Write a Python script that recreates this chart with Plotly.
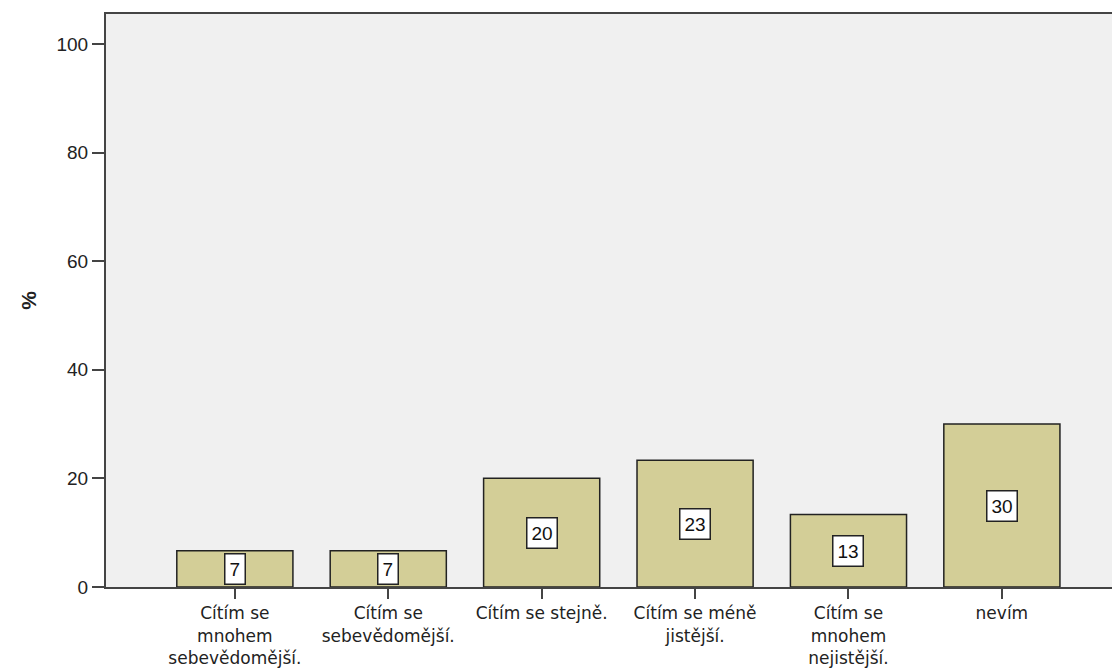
import plotly.graph_objects as go

categories = ["Cítím se<br>mnohem<br>sebevědomější.", "Cítím se<br>sebevědomější.", "Cítím se stejně.",
              "Cítím se méně<br>jistější.", "Cítím se<br>mnohem<br>nejistější.", "nevím"]
values = [6.67, 6.67, 20.0, 23.33, 13.33, 30.0]
labels = ["7", "7", "20", "23", "13", "30"]
y_ticks = [0, 20, 40, 60, 80, 100]

x_idx = list(range(len(categories)))

fig = go.Figure()
fig.add_trace(go.Bar(
    x=x_idx, y=values, width=0.757,
    marker=dict(color="#D3CE97", line=dict(color="#222222", width=1.5)),
    hoverinfo="skip",
))

for i, (v, t) in enumerate(zip(values, labels)):
    fig.add_annotation(x=i, y=v / 2, xref="x", yref="y", text=t, showarrow=False,
                       font=dict(family="Liberation Sans, Arial", size=19, color="#111111"),
                       bgcolor="white", bordercolor="#222222", borderwidth=1.5, borderpad=4)

fig.update_layout(
    width=1112, height=660,
    margin=dict(l=98, r=0, t=6, b=81),
    paper_bgcolor="white", plot_bgcolor="#F0F0F0",
    showlegend=False,
    font=dict(family="DejaVu Sans", size=16, color="#222222"),
    xaxis=dict(
        range=[-0.84, 5.77], tickmode="array", tickvals=x_idx, ticktext=categories,
        ticks="outside", ticklen=10, tickwidth=2, tickcolor="#444444",
        showline=True, linecolor="#444444", linewidth=2, mirror=True,
        showgrid=False, zeroline=False, fixedrange=True,
        tickfont=dict(family="DejaVu Sans", size=17, color="#222222"),
    ),
    yaxis=dict(
        range=[0, 105.5], tickmode="array", tickvals=y_ticks,
        ticks="outside", ticklen=12, tickwidth=2, tickcolor="#444444",
        showline=True, linecolor="#444444", linewidth=2,
        showgrid=False, zeroline=False,
        tickfont=dict(family="Liberation Sans, Arial", size=19, color="#222222"),
        title=dict(text="<b>%</b>", font=dict(family="Liberation Sans, Arial", size=21, color="#222222"), standoff=14),
    ),
)

fig.write_html("out.html")
